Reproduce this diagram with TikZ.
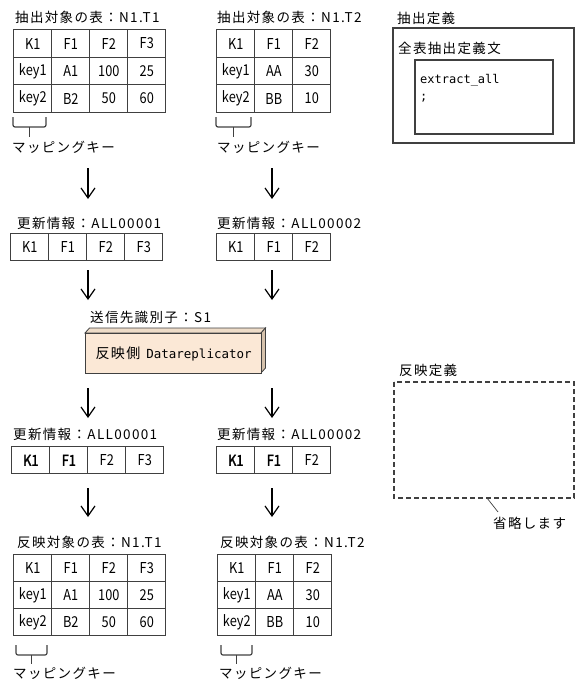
\documentclass[tikz,border=0pt]{standalone}
\usepackage{fontspec}
\setmainfont{Noto Sans CJK JP}
\newfontfamily\jpt[LetterSpace=10]{Noto Sans CJK JP}
\newfontfamily\cellf[FakeStretch=0.85]{Noto Sans CJK JP}
\newfontfamily\cellfb[FakeStretch=0.85,FakeBold=2]{Noto Sans CJK JP}
\newfontfamily\monof{DejaVu Sans Mono}
\usetikzlibrary{arrows.meta,matrix}
\definecolor{frontc}{HTML}{FBE8D6}
\definecolor{topc}{HTML}{EEDCC8}
\definecolor{sidec}{HTML}{D6C2AC}
\definecolor{linec}{HTML}{404040}
\begin{document}
\begin{tikzpicture}[x=1pt,y=-1pt,
  tbl/.style={matrix of nodes, anchor=north west, inner sep=0pt,
    column sep=-1.2pt, row sep=-1.2pt,
    nodes={draw=linec, line width=1.2pt, minimum width=38pt, minimum height=#1,
      inner sep=0pt, anchor=center, font=\cellf\fontsize{15}{17}\selectfont}},
  tbl/.default=27.5pt,
  ttl/.style={anchor=west, inner sep=0pt, font=\jpt\fontsize{13.5}{15}\selectfont},
  bx/.style={draw=linec, line width=1.2pt},
  flow/.style={-{Straight Barb[length=10pt,width=14pt,line width=1.2pt]}, line width=1.2pt},
  bold/.style={font=\cellfb\fontsize{15}{17}\selectfont}
]
\useasboundingbox (0,0) rectangle (578,693);

% ---------- top tables ----------
\node[ttl] (tt1) at (15,17) {抽出対象の表：N1.T1};
\matrix (t1) [tbl] at (13,29) {
  K1 & F1 & F2 & F3\\
  key1 & A1 & 100 & 25\\
  key2 & B2 & 50 & 60\\};
\draw[bx, rounded corners=2pt] (13,117) -- (13,127) -- (46,127) -- (46,117);
\draw[bx] (29.5,127) -- (29.5,137);
\node[ttl] (mk1) at (12,147) {マッピングキー};

\node[ttl] (tt2) at (217,17) {抽出対象の表：N1.T2};
\matrix (t2) [tbl] at (216,29) {
  K1 & F1 & F2\\
  key1 & AA & 30\\
  key2 & BB & 10\\};
\draw[bx, rounded corners=2pt] (216,117) -- (216,127) -- (251,127) -- (251,117);
\draw[bx] (233.5,127) -- (233.5,137);
\node[ttl] (mk2) at (217,147) {マッピングキー};

% ---------- extraction definition ----------
\node[ttl] (ed) at (397,18) {抽出定義};
\draw[bx] (393,28) rectangle (574,143);
\node[ttl] (edt) at (398,48) {全表抽出定義文};
\draw[bx] (415,60) rectangle (553,134);
\node[anchor=west, inner sep=0pt, font=\monof\fontsize{12}{14}\selectfont] (ex) at (420,80) {extract\_all};
\node[anchor=west, inner sep=0pt, font=\monof\fontsize{12}{14}\selectfont] (sc) at (420,98) {;};

% ---------- arrows 1 ----------
\coordinate (a1s) at (88,168); \coordinate (a1e) at (88,199);
\coordinate (b1s) at (272,168); \coordinate (b1e) at (272,199);
\draw[flow] (a1s) -- (a1e);
\draw[flow] (b1s) -- (b1e);

% ---------- update info 1 ----------
\node[ttl] (u1t) at (17,223) {更新情報：ALL00001};
\matrix (u1) [tbl=27.5pt] at (10,232.5) {K1 & F1 & F2 & F3\\};
\node[ttl] (u2t) at (217,223) {更新情報：ALL00002};
\matrix (u2) [tbl=27.5pt] at (216,232.5) {K1 & F1 & F2\\};

\coordinate (a2s) at (88,270); \coordinate (a2e) at (88,300);
\coordinate (b2s) at (272,270); \coordinate (b2e) at (272,300);
\draw[flow] (a2s) -- (a2e);
\draw[flow] (b2s) -- (b2e);

% ---------- Datareplicator ----------
\node[ttl] (dst) at (90,317) {送信先識別子：S1};
\fill[topc, draw=linec, line width=0.8pt] (85,333) -- (89.5,328) -- (265.5,328) -- (261,333) -- cycle;
\fill[sidec, draw=linec, line width=0.8pt] (261,333) -- (265.5,328) -- (265.5,368) -- (261,373) -- cycle;
\node[draw=linec, line width=1.2pt, fill=frontc, anchor=north west, minimum width=176pt, minimum height=40pt, inner sep=0pt,
  font=\jpt\fontsize{14}{16}\selectfont] (rep) at (85,333) {反映側\hspace{6pt}{\monof\fontsize{12.5}{14}\selectfont Datareplicator}};

\coordinate (a3s) at (88,388); \coordinate (a3e) at (88,418);
\coordinate (b3s) at (272,388); \coordinate (b3e) at (272,418);
\draw[flow] (a3s) -- (a3e);
\draw[flow] (b3s) -- (b3e);

% ---------- update info 2 ----------
\node[ttl] (v1t) at (13,434) {更新情報：ALL00001};
\matrix (v1) [tbl=27pt] at (11,446) {|[bold]| K1 & |[bold]| F1 & F2 & F3\\};
\node[ttl] (v2t) at (217,434) {更新情報：ALL00002};
\matrix (v2) [tbl=27pt] at (216,446) {|[bold]| K1 & |[bold]| F1 & F2\\};

\coordinate (a4s) at (88,488); \coordinate (a4e) at (88,517);
\coordinate (b4s) at (272,488); \coordinate (b4e) at (272,517);
\draw[flow] (a4s) -- (a4e);
\draw[flow] (b4s) -- (b4e);

% ---------- reflection definition ----------
\node[ttl] (rd) at (399,370) {反映定義};
\draw[draw=linec, line width=1.4pt, dash pattern=on 5pt off 3pt] (394,382) rectangle (574,498);
\coordinate (ls) at (487,498);
\node[ttl] (om) at (493,523) {省略します};
\draw[draw=linec, line width=0.7pt] (ls) -- (498,512);

% ---------- bottom tables ----------
\node[ttl] (bt1) at (17,542) {反映対象の表：N1.T1};
\matrix (r1) [tbl=26.8pt] at (13,554) {
  K1 & F1 & F2 & F3\\
  key1 & A1 & 100 & 25\\
  key2 & B2 & 50 & 60\\};
\draw[bx, rounded corners=2pt] (16,645) -- (16,655) -- (47,655) -- (47,645);
\draw[bx] (31.5,655) -- (31.5,664);
\node[ttl] (mk3) at (13,673) {マッピングキー};

\node[ttl] (bt2) at (220,542) {反映対象の表：N1.T2};
\matrix (r2) [tbl=26.8pt] at (217,554) {
  K1 & F1 & F2\\
  key1 & AA & 30\\
  key2 & BB & 10\\};
\draw[bx, rounded corners=2pt] (221,645) -- (221,655) -- (252,655) -- (252,645);
\draw[bx] (236.5,655) -- (236.5,664);
\node[ttl] (mk4) at (219,673) {マッピングキー};
\end{tikzpicture}
\end{document}
